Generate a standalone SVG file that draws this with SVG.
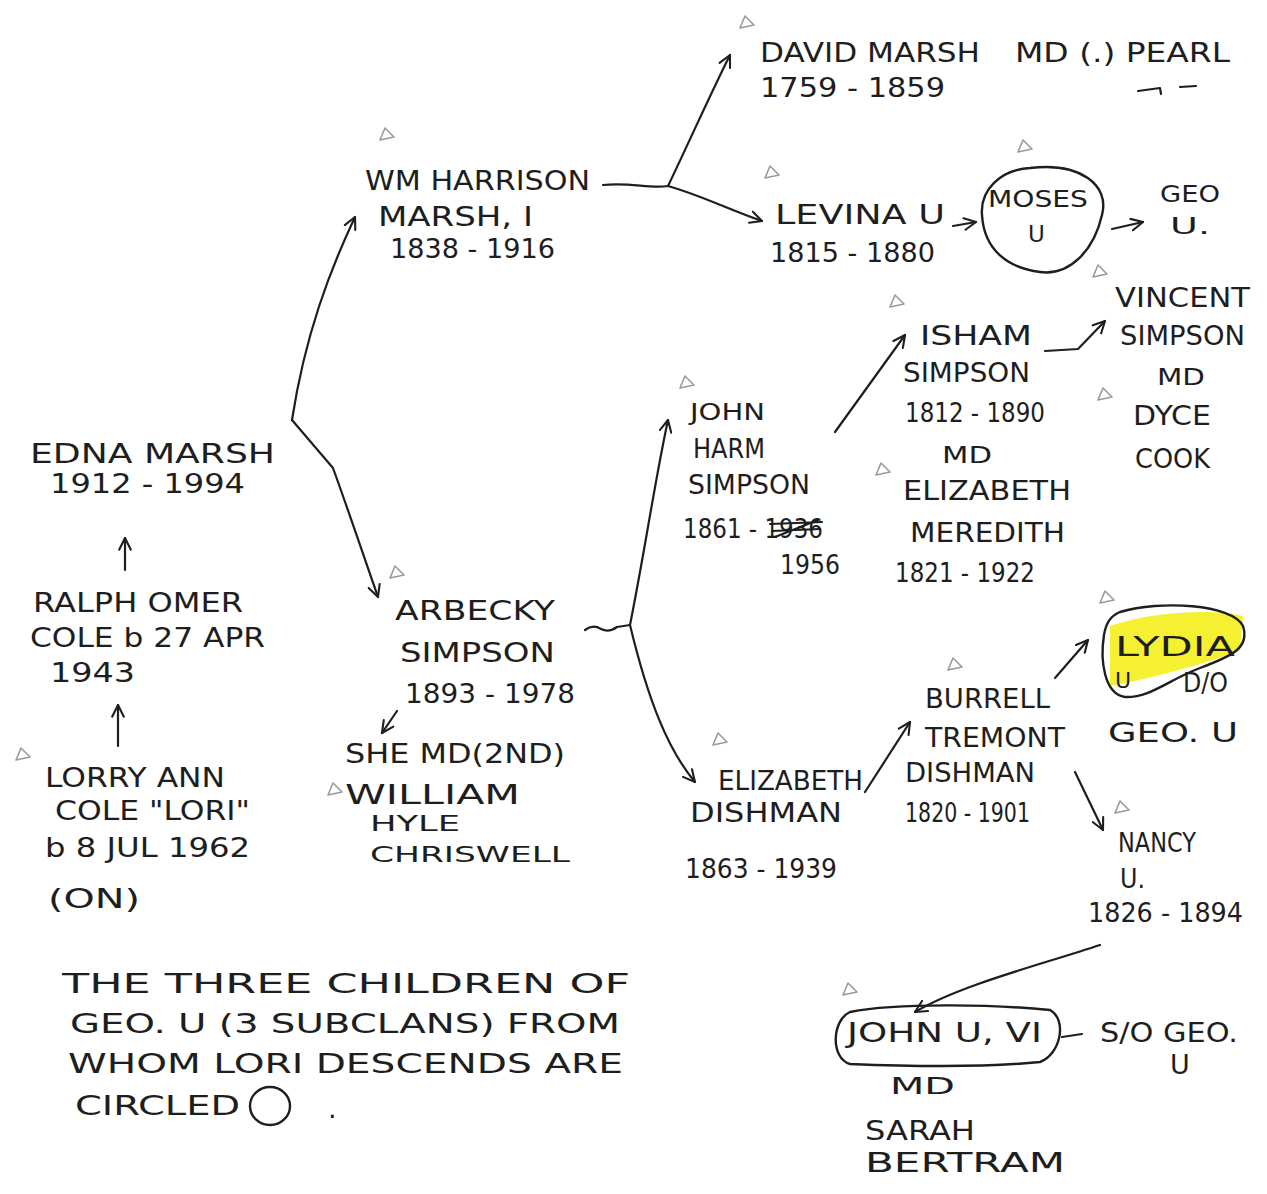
<svg xmlns="http://www.w3.org/2000/svg" width="1267" height="1194" viewBox="0 0 1267 1194">
<style>
  text { font-family: "DejaVu Sans", "Liberation Sans", sans-serif; font-size: 27px; fill: #1e1e1e; }
  .s { font-size: 23px; }
  .xs { font-size: 22px; }
  .c { fill: none; stroke: #1e1e1e; stroke-width: 2.2; stroke-linecap: round; stroke-linejoin: round; }
  .ring { fill: none; stroke: #1e1e1e; stroke-width: 2.4; }
  .tri { fill: none; stroke: #9a9a9a; stroke-width: 1.6; stroke-linejoin: round; }
</style>
<defs>
  <marker id="ah" viewBox="0 0 12 12" refX="11" refY="6" markerWidth="14" markerHeight="14" markerUnits="userSpaceOnUse" orient="auto">
    <path d="M1,1 L11,6 L1,11" fill="none" stroke="#1e1e1e" stroke-width="1.8" stroke-linecap="round" stroke-linejoin="round"/>
  </marker>
  <path id="tr" d="M0,12 L5,0 L14,9 Z"/>
</defs>
<rect width="1267" height="1194" fill="#ffffff"/>

<g id="triangles">
  <use href="#tr" class="tri" x="740" y="16"/>
  <use href="#tr" class="tri" x="380" y="128"/>
  <use href="#tr" class="tri" x="765" y="166"/>
  <use href="#tr" class="tri" x="1018" y="140"/>
  <use href="#tr" class="tri" x="890" y="295"/>
  <use href="#tr" class="tri" x="1093" y="265"/>
  <use href="#tr" class="tri" x="1098" y="388"/>
  <use href="#tr" class="tri" x="680" y="376"/>
  <use href="#tr" class="tri" x="876" y="463"/>
  <use href="#tr" class="tri" x="390" y="566"/>
  <use href="#tr" class="tri" x="328" y="783"/>
  <use href="#tr" class="tri" x="16" y="748"/>
  <use href="#tr" class="tri" x="713" y="733"/>
  <use href="#tr" class="tri" x="948" y="658"/>
  <use href="#tr" class="tri" x="1100" y="591"/>
  <use href="#tr" class="tri" x="1115" y="801"/>
  <use href="#tr" class="tri" x="843" y="983"/>
</g>

<g id="connectors">
  <path class="c" d="M292,420 C305,335 330,270 355,217" marker-end="url(#ah)"/>
  <path class="c" d="M292,420 L333,468 C350,515 365,560 378,597" marker-end="url(#ah)"/>
  <path class="c" d="M603,185 C630,182 650,189 668,186"/>
  <path class="c" d="M668,186 C690,140 710,95 730,55" marker-end="url(#ah)"/>
  <path class="c" d="M668,186 C700,195 730,210 762,221" marker-end="url(#ah)"/>
  <path class="c" d="M953,226 L976,222" marker-end="url(#ah)"/>
  <path class="c" d="M1112,229 L1143,222" marker-end="url(#ah)"/>
  <path class="c" d="M585,630 q8,-6 16,-1 q8,4 16,-2 L630,625"/>
  <path class="c" d="M630,625 C645,550 655,480 668,420" marker-end="url(#ah)"/>
  <path class="c" d="M630,625 C648,700 668,750 695,782" marker-end="url(#ah)"/>
  <path class="c" d="M835,432 L905,335" marker-end="url(#ah)"/>
  <path class="c" d="M1045,351 L1078,349 L1105,321" marker-end="url(#ah)"/>
  <path class="c" d="M865,792 L910,722" marker-end="url(#ah)"/>
  <path class="c" d="M1055,678 L1088,640" marker-end="url(#ah)"/>
  <path class="c" d="M1075,772 L1103,830" marker-end="url(#ah)"/>
  <path class="c" d="M1100,945 C1040,965 960,985 915,1012" marker-end="url(#ah)"/>
  <path class="c" d="M397,711 L382,733" marker-end="url(#ah)"/>
  <path class="c" d="M1062,1037 L1082,1034"/>
  <path class="c" d="M125,570 L125,538" marker-end="url(#ah)"/>
  <path class="c" d="M118,746 L118,705" marker-end="url(#ah)"/>
</g>

<g id="david-marsh">
  <text x="760" y="62" textLength="220" lengthAdjust="spacingAndGlyphs">DAVID MARSH</text>
  <text x="1015" y="62" textLength="215" lengthAdjust="spacingAndGlyphs">MD (.) PEARL</text>
  <text x="760" y="97" textLength="185" lengthAdjust="spacingAndGlyphs">1759 - 1859</text>
  <path class="c" d="M1138,91 L1160,88 L1161,94 M1180,87 L1196,86"/>
</g>

<g id="wm-harrison-marsh">
  <text x="365" y="190" textLength="225" lengthAdjust="spacingAndGlyphs">WM HARRISON</text>
  <text x="378" y="226" textLength="155" lengthAdjust="spacingAndGlyphs">MARSH, I</text>
  <text x="390" y="258" textLength="165" lengthAdjust="spacingAndGlyphs">1838 - 1916</text>
</g>

<g id="levina-u">
  <text x="775" y="224" textLength="170" lengthAdjust="spacingAndGlyphs">LEVINA U</text>
  <text x="770" y="262" textLength="165" lengthAdjust="spacingAndGlyphs">1815 - 1880</text>
</g>

<g id="moses-u">
  <path class="ring" d="M1030,168 C1080,162 1110,185 1102,215 C1094,250 1070,276 1040,272 C1008,268 984,250 982,215 C980,190 1000,170 1030,168 Z"/>
  <text class="s" x="988" y="207" textLength="100" lengthAdjust="spacingAndGlyphs">MOSES</text>
  <text class="s" x="1028" y="242">U</text>
</g>

<g id="geo-u-top">
  <text class="s" x="1160" y="202" textLength="60" lengthAdjust="spacingAndGlyphs">GEO</text>
  <text class="s" x="1170" y="234" textLength="40" lengthAdjust="spacingAndGlyphs">U.</text>
</g>

<g id="isham-simpson">
  <text x="920" y="345" textLength="112" lengthAdjust="spacingAndGlyphs">ISHAM</text>
  <text x="903" y="382" textLength="127" lengthAdjust="spacingAndGlyphs">SIMPSON</text>
  <text x="905" y="422" textLength="140" lengthAdjust="spacingAndGlyphs">1812 - 1890</text>
  <text class="s" x="942" y="463" textLength="50" lengthAdjust="spacingAndGlyphs">MD</text>
  <text x="903" y="500" textLength="168" lengthAdjust="spacingAndGlyphs">ELIZABETH</text>
  <text x="910" y="542" textLength="155" lengthAdjust="spacingAndGlyphs">MEREDITH</text>
  <text x="895" y="582" textLength="140" lengthAdjust="spacingAndGlyphs">1821 - 1922</text>
</g>

<g id="vincent-simpson">
  <text x="1115" y="307" textLength="135" lengthAdjust="spacingAndGlyphs">VINCENT</text>
  <text x="1120" y="345" textLength="125" lengthAdjust="spacingAndGlyphs">SIMPSON</text>
  <text class="s" x="1157" y="385" textLength="48" lengthAdjust="spacingAndGlyphs">MD</text>
  <text x="1133" y="425" textLength="78" lengthAdjust="spacingAndGlyphs">DYCE</text>
  <text x="1135" y="468" textLength="75" lengthAdjust="spacingAndGlyphs">COOK</text>
</g>

<g id="john-harm-simpson">
  <text class="s" x="690" y="420" textLength="75" lengthAdjust="spacingAndGlyphs">JOHN</text>
  <text x="693" y="458" textLength="72" lengthAdjust="spacingAndGlyphs">HARM</text>
  <text x="688" y="494" textLength="122" lengthAdjust="spacingAndGlyphs">SIMPSON</text>
  <text x="683" y="538" textLength="140" lengthAdjust="spacingAndGlyphs">1861 - 1936</text>
  <path class="c" d="M770,524 L822,522 M772,531 L820,529 M775,537 L818,520"/>
  <text x="780" y="574" textLength="60" lengthAdjust="spacingAndGlyphs">1956</text>
</g>

<g id="edna-marsh">
  <text x="30" y="463" textLength="245" lengthAdjust="spacingAndGlyphs">EDNA MARSH</text>
  <text x="50" y="493" textLength="195" lengthAdjust="spacingAndGlyphs">1912 - 1994</text>
</g>

<g id="ralph-omer-cole">
  <text x="33" y="612" textLength="210" lengthAdjust="spacingAndGlyphs">RALPH OMER</text>
  <text x="30" y="647" textLength="235" lengthAdjust="spacingAndGlyphs">COLE b 27 APR</text>
  <text x="50" y="682" textLength="85" lengthAdjust="spacingAndGlyphs">1943</text>
</g>

<g id="lorry-ann-cole">
  <text x="45" y="787" textLength="180" lengthAdjust="spacingAndGlyphs">LORRY ANN</text>
  <text x="55" y="820" textLength="195" lengthAdjust="spacingAndGlyphs">COLE "LORI"</text>
  <text x="45" y="857" textLength="205" lengthAdjust="spacingAndGlyphs">b 8 JUL 1962</text>
  <text x="48" y="908" textLength="92" lengthAdjust="spacingAndGlyphs">(ON)</text>
</g>

<g id="arbecky-simpson">
  <text x="395" y="620" textLength="160" lengthAdjust="spacingAndGlyphs">ARBECKY</text>
  <text x="400" y="662" textLength="155" lengthAdjust="spacingAndGlyphs">SIMPSON</text>
  <text x="405" y="703" textLength="170" lengthAdjust="spacingAndGlyphs">1893 - 1978</text>
</g>

<g id="william-chriswell">
  <text x="345" y="763" textLength="220" lengthAdjust="spacingAndGlyphs">SHE MD(2ND)</text>
  <text x="345" y="804" textLength="175" lengthAdjust="spacingAndGlyphs">WILLIAM</text>
  <text class="xs" x="370" y="831" textLength="90" lengthAdjust="spacingAndGlyphs">HYLE</text>
  <text class="xs" x="370" y="862" textLength="200" lengthAdjust="spacingAndGlyphs">CHRISWELL</text>
</g>

<g id="elizabeth-dishman">
  <text x="718" y="790" textLength="145" lengthAdjust="spacingAndGlyphs">ELIZABETH</text>
  <text x="690" y="822" textLength="152" lengthAdjust="spacingAndGlyphs">DISHMAN</text>
  <text x="685" y="878" textLength="152" lengthAdjust="spacingAndGlyphs">1863 - 1939</text>
</g>

<g id="burrell-dishman">
  <text x="925" y="708" textLength="125" lengthAdjust="spacingAndGlyphs">BURRELL</text>
  <text x="925" y="747" textLength="140" lengthAdjust="spacingAndGlyphs">TREMONT</text>
  <text x="905" y="782" textLength="130" lengthAdjust="spacingAndGlyphs">DISHMAN</text>
  <text x="905" y="822" textLength="125" lengthAdjust="spacingAndGlyphs">1820 - 1901</text>
</g>

<g id="lydia-u">
  <path d="M1110,626 C1150,612 1210,608 1243,616 L1240,650 C1205,664 1160,676 1110,686 Z" fill="#f4ee1c" opacity="0.9"/>
  <path class="ring" d="M1120,612 C1160,600 1232,604 1243,626 C1250,648 1232,656 1200,668 C1168,680 1150,698 1125,697 C1104,694 1100,660 1104,635 C1106,622 1112,615 1120,612 Z"/>
  <text x="1115" y="656" textLength="120" lengthAdjust="spacingAndGlyphs">LYDIA</text>
  <text class="xs" x="1115" y="688">U</text>
  <text x="1183" y="692" textLength="45" lengthAdjust="spacingAndGlyphs">D/O</text>
  <text x="1108" y="742" textLength="130" lengthAdjust="spacingAndGlyphs">GEO. U</text>
</g>

<g id="nancy-u">
  <text x="1118" y="852" textLength="78" lengthAdjust="spacingAndGlyphs">NANCY</text>
  <text x="1120" y="888" textLength="25" lengthAdjust="spacingAndGlyphs">U.</text>
  <text x="1088" y="922" textLength="155" lengthAdjust="spacingAndGlyphs">1826 - 1894</text>
</g>

<g id="john-u-vi">
  <path class="ring" d="M850,1012 C900,1002 1000,1005 1050,1010 C1068,1020 1060,1055 1040,1062 C980,1068 900,1066 850,1064 C830,1058 832,1020 850,1012 Z"/>
  <text x="847" y="1042" textLength="195" lengthAdjust="spacingAndGlyphs">JOHN U, VI</text>
  <text x="1100" y="1042" textLength="138" lengthAdjust="spacingAndGlyphs">S/O GEO.</text>
  <text x="1170" y="1074">U</text>
  <text class="s" x="890" y="1094" textLength="65" lengthAdjust="spacingAndGlyphs">MD</text>
  <text x="865" y="1140" textLength="110" lengthAdjust="spacingAndGlyphs">SARAH</text>
  <text x="865" y="1172" textLength="200" lengthAdjust="spacingAndGlyphs">BERTRAM</text>
</g>

<g id="note">
  <text x="62" y="993" textLength="568" lengthAdjust="spacingAndGlyphs">THE THREE CHILDREN OF</text>
  <text x="70" y="1033" textLength="550" lengthAdjust="spacingAndGlyphs">GEO. U (3 SUBCLANS) FROM</text>
  <text x="68" y="1073" textLength="555" lengthAdjust="spacingAndGlyphs">WHOM LORI DESCENDS ARE</text>
  <text x="75" y="1115" textLength="165" lengthAdjust="spacingAndGlyphs">CIRCLED</text>
  <ellipse class="ring" cx="270" cy="1106" rx="20" ry="19"/>
  <text x="328" y="1118">.</text>
</g>
</svg>
